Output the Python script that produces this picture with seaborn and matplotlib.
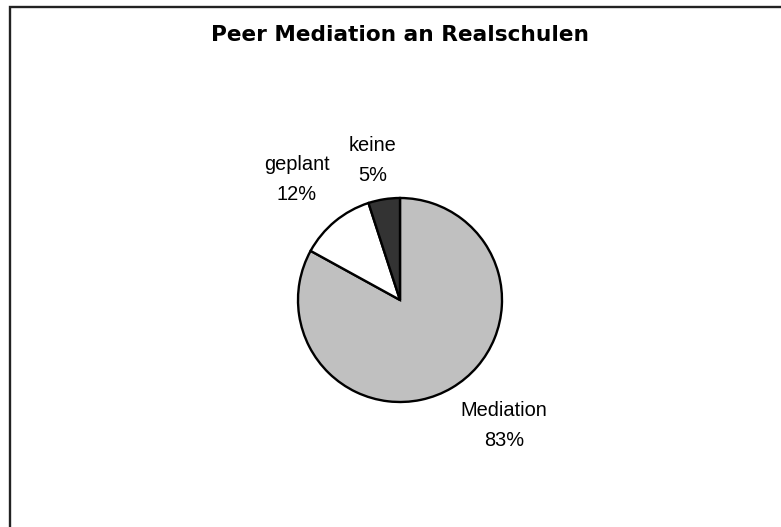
import matplotlib
matplotlib.use("Agg")
import matplotlib.pyplot as plt
import seaborn as sns
from matplotlib.patches import Rectangle

# ── Data ──────────────────────────────────────────────────────────────────
categories = ["Mediation", "geplant", "keine"]
shares = [83, 12, 5]
colours = ["#C0C0C0", "#FFFFFF", "#333333"]
TITLE = "Peer Mediation an Realschulen"

# label anchor for each slice, in pie radii (Excel-like placement)
label_pos = [(1.02, -1.23), (-1.01, 1.18), (-0.265, 1.37)]

sns.set_theme(style="white")
plt.rcParams["font.family"] = ["Liberation Sans", "DejaVu Sans"]

W, H = 781, 527
fig = plt.figure(figsize=(W / 100, H / 100), dpi=100)
fig.patch.set_facecolor("white")

# pie centre at (400, 300) px from top-left, radius ~102 px
cx, cy, r_px, half = 400, 300, 102, 200
ax = fig.add_axes([(cx - half) / W, (H - cy - half) / H, 2 * half / W, 2 * half / H])

labels = [f"{c}\n{v}%" for c, v in zip(categories, shares)]
wedges, texts = ax.pie(
    shares,
    labels=labels,
    colors=colours,
    startangle=90,
    counterclock=False,
    wedgeprops=dict(edgecolor="black", linewidth=1.7),
    textprops=dict(fontsize=14.4, color="black"),
)
lim = half / r_px
ax.set_xlim(-lim, lim)
ax.set_ylim(-lim, lim)
ax.set_aspect("equal")
ax.axis("off")

for t, pos in zip(texts, label_pos):
    t.set_position(pos)
    t.set_ha("center")
    t.set_va("center")
    t.set_multialignment("center")
    t.set_linespacing(1.7)

fig.text(400.5 / W, 1 - 35 / H, TITLE, ha="center", va="center",
         fontsize=15.6, fontweight="bold", color="black",
         family=["DejaVu Sans"])

# chart-area frame (right and bottom edges fall outside the image)
frame = Rectangle((10 / W, -0.2), 1.2, 1.2 - 7 / H, transform=fig.transFigure,
                  fill=False, edgecolor="#222222", linewidth=1.7)
fig.patches.append(frame)

fig.savefig("out.png", dpi=100)
